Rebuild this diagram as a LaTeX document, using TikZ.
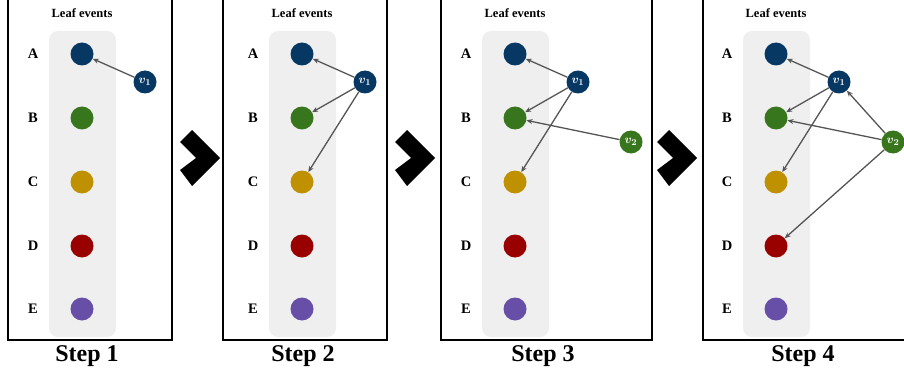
\documentclass[tikz,border=0pt]{standalone}
\usepackage{fontspec}
\setmainfont{Liberation Serif}
\usetikzlibrary{arrows.meta}
\definecolor{cA}{HTML}{073763}
\definecolor{cB}{HTML}{38761D}
\definecolor{cC}{HTML}{BF9000}
\definecolor{cD}{HTML}{990000}
\definecolor{cE}{HTML}{674EA7}
\definecolor{bandgray}{HTML}{EFEFEF}
\definecolor{arrowgray}{HTML}{555555}
\begin{document}
\begin{tikzpicture}[x=1pt,y=-1pt,
  leaf/.style={circle,minimum size=23pt,inner sep=0pt},
  vnode/.style={circle,minimum size=23pt,inner sep=0pt,text=white,font=\fontsize{12.5}{13}\selectfont\boldmath},
  lbl/.style={font=\fontsize{14.5}{16}\selectfont\bfseries},
  ttl/.style={font=\fontsize{12.5}{14}\selectfont\bfseries},
  steplbl/.style={font=\fontsize{24}{27}\selectfont\bfseries},
  framebox/.style={draw=black,line width=1.3pt},
  band/.style={fill=bandgray,rounded corners=9pt},
  conn/.style={draw=arrowgray,line width=1.3pt,-{Stealth[length=6pt,width=5pt]}},
  chev/.style={fill=black}]
\useasboundingbox (0,0) rectangle (904,377);
\foreach \p/\fl/\fr/\cx/\sx in {1/8/172/82/87, 2/223/387/302/303, 3/441/652/515/543, 4/703/910/776/803} {
  \draw[framebox] (\fl,-5) rectangle (\fr,340);
  \fill[band] (\cx-33,31) rectangle (\cx+34,337);
  \node[ttl] (T\p) at (\cx,13) {Leaf events};
  \foreach \n/\y in {A/54,B/118,C/182,D/246,E/309} {
    \node[leaf,fill=c\n] (\n\p) at (\cx,\y) {};
    \node[lbl] (L\n\p) at (\cx-49,\y) {\n};
  }
  \node[steplbl] (S\p) at (\sx,356) {Step \p};
  \node[vnode,fill=cA] (va\p) at (\cx+63,82) {$v_1$};
}
\node[vnode,fill=cB] (vb3) at (631,142) {$v_2$};
\node[vnode,fill=cB] (vb4) at (893,142) {$v_2$};
% chevrons
\foreach \x in {180,395,657} {
  \fill[chev] (\x,142) -- (\x+12,130) -- (\x+40,158) -- (\x+12,186) -- (\x,170) -- (\x+16,158) -- cycle;
}
% connectors
\draw[conn] (va1) -- (A1);
\foreach \p in {2,3,4} {
  \draw[conn] (va\p) -- (A\p);
  \draw[conn] (va\p) -- (B\p);
  \draw[conn] (va\p) -- (C\p);
}
\draw[conn] (vb3) -- (B3);
\draw[conn] (vb4) -- (B4);
\draw[conn] (vb4) -- (va4);
\draw[conn] (vb4) -- (D4);
\end{tikzpicture}
\end{document}
